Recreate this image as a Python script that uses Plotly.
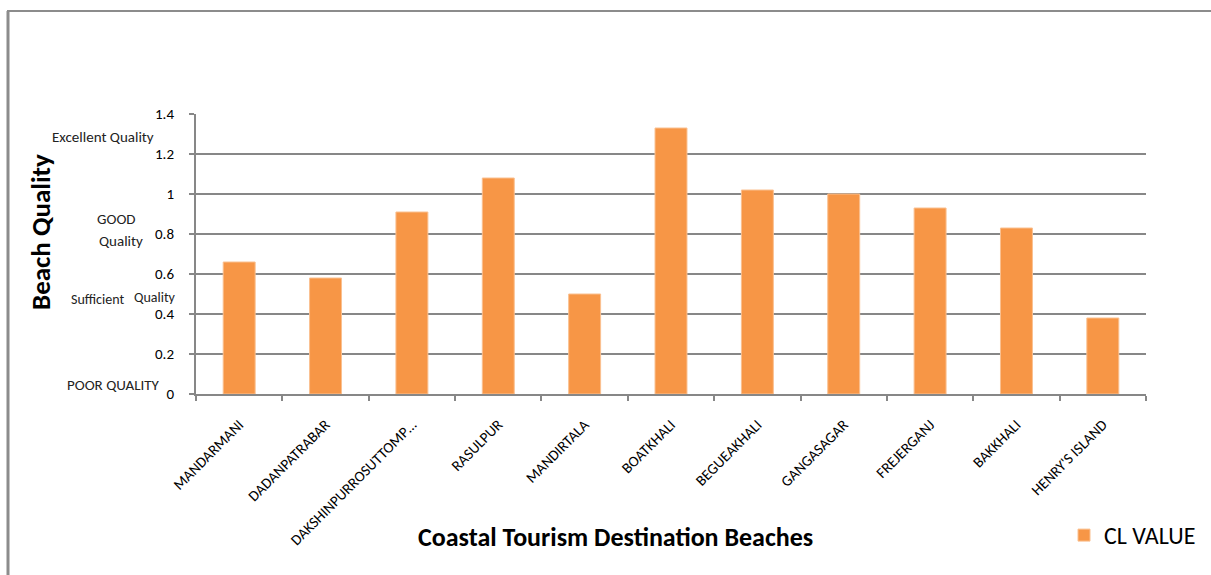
import plotly.graph_objects as go

beaches = [
    "MANDARMANI", "DADANPATRABAR", "DAKSHINPURROSUTTOMP…", "RASULPUR",
    "MANDIRTALA", "BOATKHALI", "BEGUEAKHALI", "GANGASAGAR", "FREJERGANJ",
    "BAKKHALI", "HENRY'S ISLAND",
]
cl_value = [0.66, 0.58, 0.91, 1.08, 0.50, 1.33, 1.02, 1.00, 0.93, 0.83, 0.38]
y_ticks = [0, 0.2, 0.4, 0.6, 0.8, 1.0, 1.2, 1.4]
y_tick_text = ["0", "0.2", "0.4", "0.6", "0.8", "1", "1.2", "1.4"]

W, H = 1211, 575
L, R, T, B = 196, 65, 114, 181
PW, PH = W - L - R, H - T - B


def px(x):
    return (x - L) / PW


def py(y):
    return (H - B - y) / PH


FONT = "Carlito, Liberation Sans Narrow, Liberation Sans, sans-serif"
GRID = "#878787"

fig = go.Figure()
fig.add_trace(go.Bar(
    x=beaches, y=cl_value, name="CL VALUE",
    marker=dict(color="#F79646", line=dict(color="#FAC090", width=1)),
))

fig.update_layout(
    width=W, height=H,
    margin=dict(l=L, r=R, t=T, b=B, autoexpand=False),
    paper_bgcolor="white", plot_bgcolor="white",
    bargap=0.63,
    showlegend=True,
    legend=dict(
        x=px(1064), y=py(513), xanchor="left", yanchor="top",
        font=dict(family=FONT, size=24, color="black"),
        bgcolor="rgba(0,0,0,0)",
    ),
    xaxis=dict(
        type="category", tickangle=-45, automargin=False,
        tickfont=dict(family=FONT, size=15, color="black"),
        ticklabelstandoff=14,
        showline=True, linecolor=GRID, linewidth=2,
        ticks="outside", ticklen=5, tickcolor=GRID, tickwidth=1.5,
        tickson="boundaries", showgrid=False,
    ),
    yaxis=dict(
        range=[0, 1.4], tickvals=y_ticks, ticktext=y_tick_text,
        automargin=False,
        tickfont=dict(family=FONT, size=15, color="black"),
        ticklabelstandoff=12,
        showline=True, linecolor=GRID, linewidth=2,
        ticks="outside", ticklen=5, tickcolor=GRID, tickwidth=1.5,
        showgrid=True, gridcolor=GRID, gridwidth=2,
        zeroline=False,
    ),
)

# outer chart frame (left and top edges)
fig.add_shape(type="line", xref="paper", yref="paper",
              x0=px(8), x1=px(8), y0=py(11), y1=py(H + 5),
              line=dict(color="#8C8C8C", width=3))
fig.add_shape(type="line", xref="paper", yref="paper",
              x0=px(7), x1=px(W + 5), y0=py(11), y1=py(11),
              line=dict(color="#8C8C8C", width=2))

# quality band labels beside the y axis
band_labels = [
    ("Excellent Quality", 103, 137, 15),
    ("GOOD", 116, 219, 15),
    ("Quality", 121, 241, 15),
    ("Sufficient", 97, 299, 14),
    ("Quality", 155, 297, 14),
    ("POOR QUALITY", 113, 385, 15),
]
for text, x, y, size in band_labels:
    fig.add_annotation(text=text, xref="paper", yref="paper",
                       x=px(x), y=py(y), xanchor="center", yanchor="middle",
                       showarrow=False,
                       font=dict(family=FONT, size=size, color="#222222"))

fig.add_annotation(text="<b>Beach Quality</b>", xref="paper", yref="paper",
                   x=px(40), y=py(232), textangle=-90, showarrow=False,
                   xanchor="center", yanchor="middle",
                   font=dict(family=FONT, size=27, color="black"))
fig.add_annotation(text="<b>Coastal Tourism Destination Beaches</b>",
                   xref="paper", yref="paper",
                   x=px(615), y=py(537), showarrow=False,
                   xanchor="center", yanchor="middle",
                   font=dict(family=FONT, size=26, color="black"))

fig.write_html("out.html")
